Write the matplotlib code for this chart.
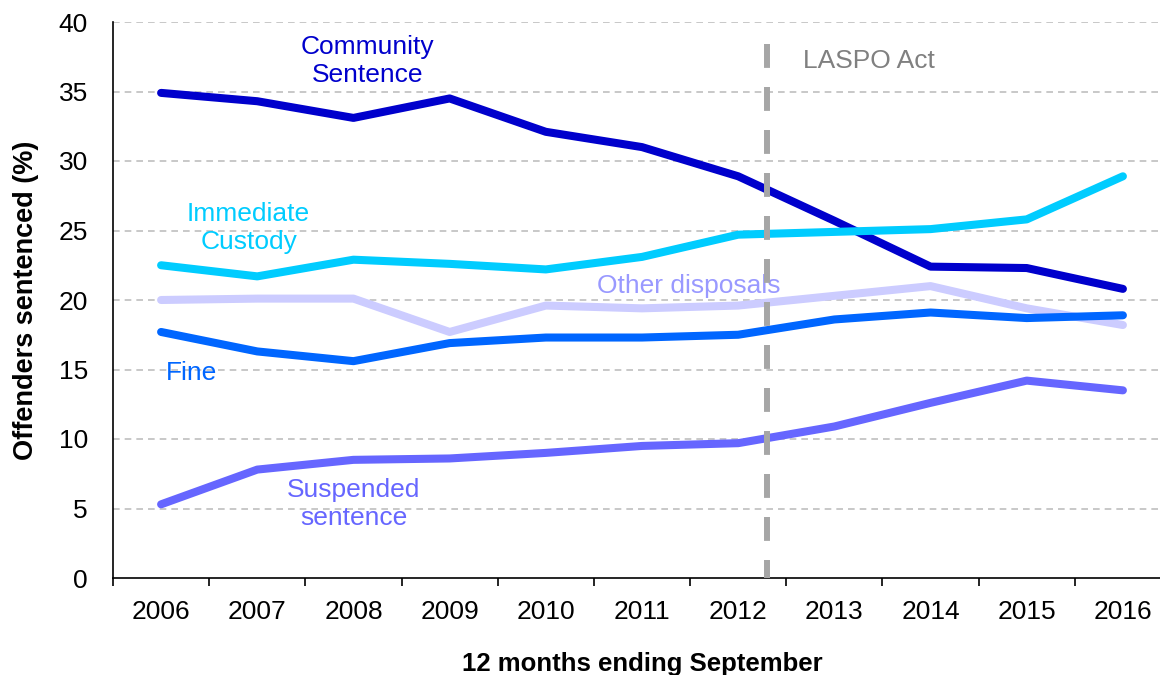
import numpy as np
import matplotlib.pyplot as plt

plt.rcParams['font.family'] = ['Liberation Sans', 'DejaVu Sans']

# data
years = ['2006', '2007', '2008', '2009', '2010', '2011', '2012', '2013', '2014', '2015', '2016']
community = [34.9, 34.3, 33.1, 34.5, 32.1, 31.0, 28.9, 25.7, 22.4, 22.3, 20.8]
custody = [22.5, 21.7, 22.9, 22.6, 22.2, 23.1, 24.7, 24.9, 25.1, 25.8, 28.9]
other = [20.0, 20.1, 20.1, 17.7, 19.6, 19.4, 19.6, 20.3, 21.0, 19.4, 18.2]
fine = [17.7, 16.3, 15.6, 16.9, 17.3, 17.3, 17.5, 18.6, 19.1, 18.7, 18.9]
suspended = [5.3, 7.8, 8.5, 8.6, 9.0, 9.5, 9.7, 10.9, 12.6, 14.2, 13.5]
laspo_pos = 6.3

fig = plt.figure(figsize=(11.6, 6.75), dpi=100)
# right edge runs past the picture like the original
ax = fig.add_axes([113/1160, 97/675, 1058/1160, 556/675])

x = np.arange(len(years))
series = [
    (community, '#0000CC'),
    (custody, '#00CCFF'),
    (other, '#CCCCFF'),
    (fine, '#0066FF'),
    (suspended, '#6666FF'),
]
for vals, col in series:
    ax.plot(x, vals, color=col, lw=5.8, solid_capstyle='round', solid_joinstyle='round', zorder=3)

# drawn top-down so the dash pattern starts at the top
ax.plot([laspo_pos, laspo_pos], [38.4, 0], color='#A6A6A6', lw=4.3, dashes=(4.0, 3.2), zorder=4)

tsize = 19
ax.text(2.15, 37.2, 'Community\nSentence', color='#0000CC', fontsize=tsize, ha='center', va='center', linespacing=1.22)
ax.text(0.91, 25.2, 'Immediate\nCustody', color='#00CCFF', fontsize=tsize, ha='center', va='center', linespacing=1.22)
ax.text(4.53, 21.0, 'Other disposals', color='#9999FF', fontsize=tsize, ha='left', va='center')
ax.text(0.32, 14.75, 'Fine', color='#0066FF', fontsize=tsize, ha='center', va='center')
ax.text(2.0, 5.3, 'Suspended\nsentence', color='#6666FF', fontsize=tsize, ha='center', va='center', linespacing=1.22)
ax.text(6.67, 37.2, 'LASPO Act', color='#808080', fontsize=tsize, ha='left', va='center')

ax.set_xlim(-0.5, 10.5)
ax.set_ylim(0, 40)
ax.set_yticks(np.arange(0, 41, 5))
ax.tick_params(axis='y', length=0, pad=18, labelsize=19)
ax.set_xticks(np.arange(-0.5, 11, 1))
ax.set_xticklabels([])
ax.tick_params(axis='x', which='major', length=6, width=1.2, direction='out')
ax.set_xticks(x, minor=True)
ax.set_xticklabels(years, minor=True)
ax.tick_params(axis='x', which='minor', length=0, pad=16, labelsize=19)

for y in range(5, 41, 5):
    ax.axhline(y, color='#BFBFBF', lw=1.2, dashes=(4, 3), zorder=1)

for s in ['top', 'right']:
    ax.spines[s].set_visible(False)
ax.spines['left'].set_linewidth(1.2)
ax.spines['bottom'].set_linewidth(1.2)

ax.set_ylabel('Offenders sentenced (%)', fontsize=19.5, fontweight='bold', labelpad=14)
ax.set_xlabel('12 months ending September', fontsize=18.5, fontweight='bold', labelpad=20)

fig.savefig('out.png', dpi=100)
